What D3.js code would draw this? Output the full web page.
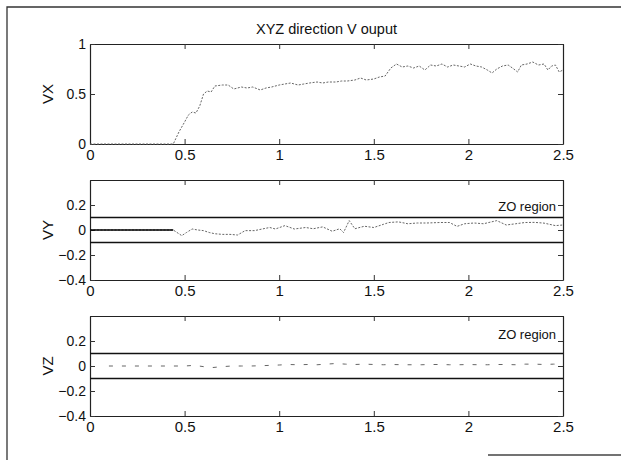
<!DOCTYPE html>
<html>
<head>
<meta charset="utf-8">
<script src="https://cdn.jsdelivr.net/npm/d3@7/dist/d3.min.js"></script>
<style>
  html, body { margin: 0; padding: 0; background: #fff; }
  svg { display: block; }
  text { font-family: "Liberation Sans", Arial, Helvetica, sans-serif; fill: #111; }
</style>
</head>
<body>
<svg id="chart" width="621" height="468"></svg>
<script>
// Velocity outputs in X, Y and Z, sampled over time (s)
const title = "XYZ direction V ouput";
const xTicks = [0, 0.5, 1, 1.5, 2, 2.5];

const vxTime = [0, 0.44, 0.47, 0.5, 0.52, 0.54, 0.56, 0.58, 0.6, 0.62, 0.64, 0.66, 0.7, 0.73, 0.76, 0.8, 0.83, 0.86, 0.9, 0.93, 0.96, 1.0, 1.03, 1.06, 1.1, 1.13, 1.16, 1.2, 1.23, 1.26, 1.3, 1.33, 1.36, 1.4, 1.43, 1.46, 1.5, 1.53, 1.56, 1.59, 1.62, 1.65, 1.68, 1.71, 1.74, 1.77, 1.8, 1.83, 1.86, 1.89, 1.92, 1.95, 1.98, 2.01, 2.04, 2.07, 2.1, 2.125, 2.15, 2.18, 2.21, 2.24, 2.26, 2.28, 2.31, 2.34, 2.37, 2.4, 2.42, 2.44, 2.46, 2.48, 2.5];
const vxValue = [0, 0, 0.12, 0.22, 0.29, 0.32, 0.31, 0.38, 0.5, 0.53, 0.52, 0.58, 0.59, 0.59, 0.55, 0.57, 0.56, 0.57, 0.54, 0.56, 0.57, 0.59, 0.6, 0.61, 0.59, 0.6, 0.61, 0.62, 0.61, 0.62, 0.62, 0.63, 0.63, 0.64, 0.66, 0.64, 0.65, 0.67, 0.68, 0.76, 0.8, 0.77, 0.78, 0.76, 0.78, 0.74, 0.79, 0.78, 0.8, 0.77, 0.79, 0.78, 0.77, 0.8, 0.78, 0.77, 0.74, 0.71, 0.75, 0.78, 0.79, 0.75, 0.72, 0.79, 0.8, 0.82, 0.79, 0.8, 0.74, 0.78, 0.79, 0.72, 0.74];

const vyTime = [0, 0.44, 0.46, 0.485, 0.51, 0.54, 0.57, 0.6, 0.63, 0.66, 0.7, 0.74, 0.78, 0.82, 0.87, 0.91, 0.95, 0.98, 1.03, 1.08, 1.14, 1.18, 1.23, 1.28, 1.32, 1.34, 1.37, 1.4, 1.45, 1.5, 1.55, 1.58, 1.63, 1.68, 1.73, 1.78, 1.85, 1.9, 1.94, 1.98, 2.03, 2.08, 2.15, 2.2, 2.25, 2.3, 2.35, 2.4, 2.46, 2.5];
const vyValue = [0, 0, -0.02, -0.045, -0.02, 0.008, 0.0, -0.005, -0.02, -0.03, -0.035, -0.035, -0.04, -0.005, -0.005, 0.008, 0.02, 0.008, 0.035, 0.008, 0.02, 0.01, 0.025, -0.01, 0.01, -0.02, 0.075, 0.01, 0.03, 0.02, 0.045, 0.06, 0.065, 0.05, 0.056, 0.056, 0.06, 0.06, 0.029, 0.05, 0.056, 0.05, 0.075, 0.04, 0.05, 0.06, 0.061, 0.055, 0.035, 0.04];

const vzTime = [0.1, 0.2, 0.3, 0.4, 0.5, 0.55, 0.6, 0.65, 0.7, 0.75, 0.8, 0.85, 0.9, 0.95, 1.0, 1.05, 1.1, 1.15, 1.2, 1.25, 1.3, 1.35, 1.4, 1.45, 1.5, 1.55, 1.6, 1.65, 1.7, 1.75, 1.8, 1.85, 1.9, 1.95, 2.0, 2.05, 2.1, 2.15, 2.2, 2.25, 2.3, 2.35, 2.4, 2.45, 2.48];
const vzValue = [0, 0, 0, 0, 0, 0.005, -0.005, -0.012, -0.005, 0, 0, 0, 0.002, 0.005, 0.008, 0.012, 0.01, 0.012, 0.01, 0.015, 0.02, 0.015, 0.012, 0.015, 0.012, 0.01, 0.012, 0.01, 0.01, 0.01, 0.012, 0.012, 0.01, 0.01, 0.012, 0.01, 0.01, 0.012, 0.012, 0.01, 0.015, 0.015, 0.012, 0.015, 0.015];

// Zero-output band limits and flat start of the Y response
const zoLimits = [0.1, -0.1];
const holdUntil = 0.44;

const vxTicks = [0, 0.5, 1];
const vyzTicks = [-0.4, -0.2, 0, 0.2];

const svg = d3.select("#chart");

// page frame
svg.append("path").attr("d", "M7,460 L7,7 L621,7").attr("fill", "none")
  .attr("stroke", "#333").attr("stroke-width", 1.3);
svg.append("path").attr("d", "M488,455 L621,455").attr("fill", "none")
  .attr("stroke", "#444").attr("stroke-width", 1.3);

const left = 90, right = 563, plotH = 100;
const x = d3.scaleLinear().domain([0, 2.5]).range([left, right]);

const panels = [
  { label: "VX", top: 44, domain: [0, 1], ticks: vxTicks, t: vxTime, v: vxValue, zo: false },
  { label: "VY", top: 180, domain: [-0.4, 0.4], ticks: vyzTicks, t: vyTime, v: vyValue, zo: true, zoText: 0.152, hold: true },
  { label: "VZ", top: 316, domain: [-0.4, 0.4], ticks: vyzTicks, t: vzTime, v: vzValue, zo: true, zoText: 0.22, sparse: true }
];

svg.append("text").attr("x", (left + right) / 2).attr("y", 34)
  .attr("text-anchor", "middle").style("font-size", "14.5px").text(title);

panels.forEach(p => {
  const y = d3.scaleLinear().domain(p.domain).range([p.top + plotH, p.top]);
  const g = svg.append("g");
  const pts = p.t.map((t, i) => [t, p.v[i]]);

  // axes with inward ticks on all sides
  const bottom = g.append("g").attr("transform", `translate(0,${p.top + plotH})`)
    .call(d3.axisBottom(x).tickValues(xTicks).tickSizeInner(-5).tickSizeOuter(0).tickPadding(5).tickFormat(d3.format("")));
  bottom.selectAll("text").style("font-size", "15px");
  g.append("g").attr("transform", `translate(0,${p.top})`)
    .call(d3.axisTop(x).tickValues(xTicks).tickSizeInner(-5).tickSizeOuter(0).tickFormat(""));
  const lax = g.append("g").attr("transform", `translate(${left},0)`)
    .call(d3.axisLeft(y).tickValues(p.ticks).tickSizeInner(-5).tickSizeOuter(0).tickPadding(4).tickFormat(d3.format("")));
  lax.selectAll("text").style("font-size", "14px");
  g.append("g").attr("transform", `translate(${right},0)`)
    .call(d3.axisRight(y).tickValues(p.ticks).tickSizeInner(-5).tickSizeOuter(0).tickFormat(""));
  g.selectAll(".domain").attr("stroke", "#222").attr("stroke-width", 1.2);
  g.selectAll(".tick line").attr("stroke", "#333");

  g.append("text")
    .attr("transform", `translate(53,${p.top + plotH / 2}) rotate(-90)`)
    .attr("text-anchor", "middle").style("font-size", "15px").text(p.label);

  if (p.zo) {
    zoLimits.forEach(z => {
      g.append("line").attr("x1", left).attr("x2", right)
        .attr("y1", y(z)).attr("y2", y(z))
        .attr("stroke", "#111").attr("stroke-width", 1.4);
    });
    g.append("text").attr("x", right - 7).attr("y", y(p.zoText))
      .attr("text-anchor", "end").style("font-size", "13px").text("ZO region");
  }

  const line = d3.line().x(d => x(d[0])).y(d => y(d[1]));
  g.append("path").datum(pts).attr("d", line).attr("fill", "none")
    .attr("stroke", "#666").attr("stroke-width", 1)
    .attr("stroke-dasharray", p.sparse ? "4,9" : "2,1.5");

  if (p.hold) {
    g.append("path").datum(pts.filter(d => d[0] <= holdUntil)).attr("d", line)
      .attr("fill", "none").attr("stroke", "#000").attr("stroke-width", 1.6);
  }
});
</script>
</body>
</html>
